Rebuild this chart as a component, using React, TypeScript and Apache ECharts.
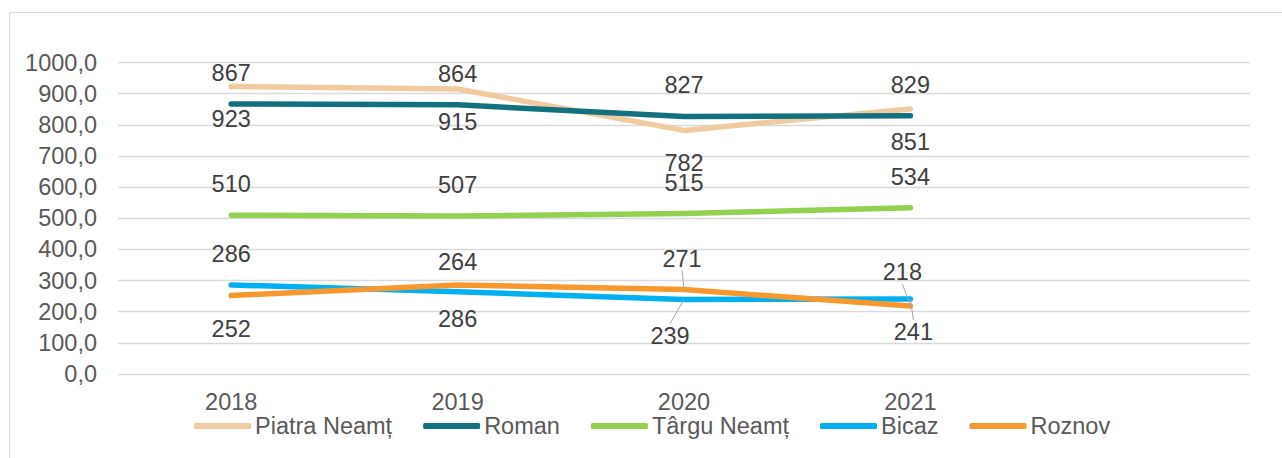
import React, { useEffect, useRef } from "react";
import * as echarts from "echarts";

const categories = ["2018", "2019", "2020", "2021", ""];
const seriesNames = ["Piatra Neamț", "Roman", "Târgu Neamț", "Bicaz", "Roznov"];
const piatraNeamt = [923, 915, 782, 851];
const roman = [867, 864, 827, 829];
const targuNeamt = [510, 507, 515, 534];
const bicaz = [286, 264, 239, 241];
const roznov = [252, 286, 271, 218];
const colors = ["#F1CBA0", "#13707F", "#92D050", "#00B0F0", "#F7982E"];

// label offsets (dx, dy) relative to each point, in px
const labelOffsets: number[][][] = [
  [[0, 33], [0, 33], [0, 33], [0, 33]],
  [[0, -31], [0, -31], [0, -31], [0, -31]],
  [[0, -31], [0, -31], [0, -31], [0, -31]],
  [[0, -31], [0, -30], [-14, 36], [3, 33]],
  [[0, 33], [0, 34], [-2, -31], [-8, -34]],
];
const leaderLines: boolean[][] = [
  [false, false, false, false],
  [false, false, false, false],
  [false, false, false, false],
  [false, false, true, true],
  [false, false, true, true],
];

export default function App() {
  const ref = useRef<HTMLDivElement>(null);
  useEffect(() => {
    const chart = echarts.init(ref.current!, null, { renderer: "svg" });
    const allData = [piatraNeamt, roman, targuNeamt, bicaz, roznov];
    const font = "'Liberation Sans', Arial, sans-serif";
    chart.setOption({
      animation: false,
      textStyle: { fontFamily: font },
      graphic: [
        {
          type: "rect",
          shape: { x: 9.5, y: 12.5, width: 1300, height: 500 },
          style: { fill: "none", stroke: "#d9d9d9", lineWidth: 1 },
          silent: true,
        },
      ],
      grid: { left: 118, right: 32, top: 62.5, bottom: 84, containLabel: false },
      xAxis: {
        type: "category",
        data: categories,
        boundaryGap: true,
        axisLine: { show: false },
        axisTick: { show: false },
        axisLabel: { color: "#595959", fontSize: 23.5, margin: 16, fontFamily: font },
      },
      yAxis: {
        type: "value",
        min: 0,
        max: 1000,
        interval: 100,
        axisLine: { show: false },
        axisTick: { show: false },
        splitLine: { lineStyle: { color: "#d9d9d9", width: 1.3 } },
        axisLabel: {
          color: "#595959",
          fontSize: 23.5,
          margin: 21,
          fontFamily: font,
          formatter: (v: number) => v.toFixed(1).replace(".", ","),
        },
      },
      legend: {
        left: 189,
        top: 409,
        icon: "roundRect",
        itemWidth: 57,
        itemHeight: 6,
        itemGap: 31,
        textStyle: { color: "#595959", fontSize: 23.5, fontFamily: font, padding: [0, 0, 0, -1] },
        data: seriesNames,
      },
      series: seriesNames.map((name, si) => ({
        name,
        type: "line",
        color: colors[si],
        symbol: "circle",
        symbolSize: 0.01,
        showSymbol: true,
        lineStyle: { width: 5.5, color: colors[si], cap: "round", join: "round" },
        itemStyle: { color: colors[si] },
        data: allData[si].map((v, di) => ({
          value: v,
          labelLine: {
            show: leaderLines[si][di],
            lineStyle: { color: "#a6a6a6", width: 1 },
          },
        })),
        label: {
          show: true,
          position: "inside",
          color: "#404040",
          fontSize: 23.5,
          fontFamily: font,
        },
        labelLayout: (params: any) => {
          const off = labelOffsets[params.seriesIndex][params.dataIndex];
          const r = params.rect;
          return {
            x: r.x + r.width / 2 + off[0],
            y: r.y + r.height / 2 + off[1],
            align: "center",
            verticalAlign: "middle",
          };
        },
      })),
    });
    return () => chart.dispose();
  }, []);
  return (
    <div
      ref={ref}
      style={{ position: "fixed", left: 0, top: 0, width: 1282, height: 458, background: "#fff" }}
    />
  );
}
